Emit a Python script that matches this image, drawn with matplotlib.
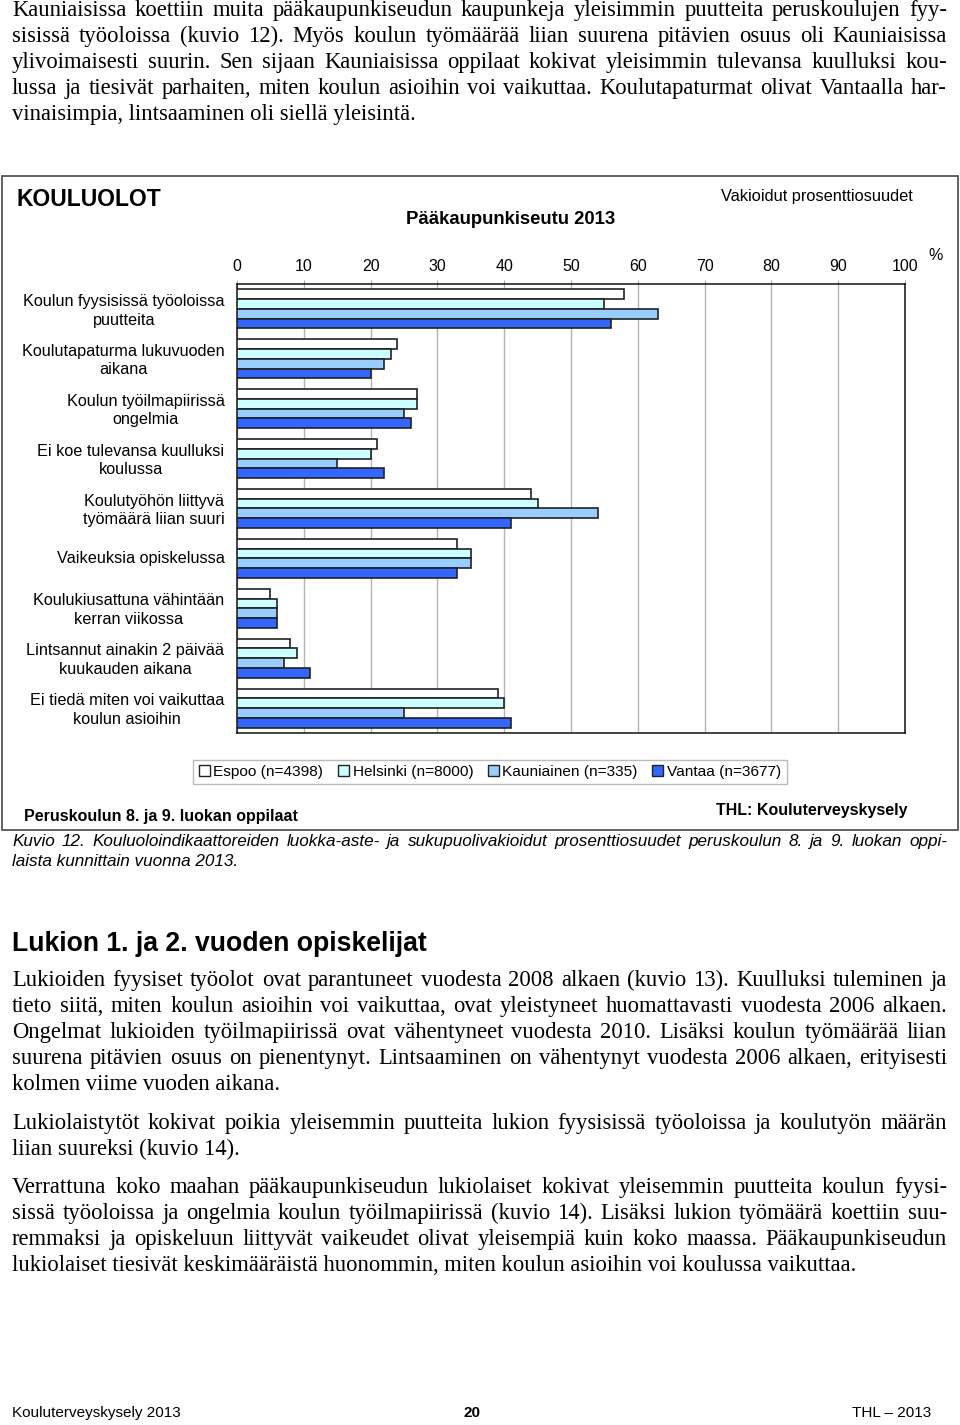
import matplotlib
matplotlib.use("Agg")
import matplotlib.pyplot as plt
from matplotlib.patches import Patch, Rectangle
import numpy as np

W, H = 960, 1425

# ---------------- data ----------------
categories = [
    "Koulun fyysisissä työoloissa\npuutteita",
    "Koulutapaturma lukuvuoden\naikana",
    "Koulun työilmapiirissä\nongelmia",
    "Ei koe tulevansa kuulluksi\nkoulussa",
    "Koulutyöhön liittyvä\ntyömäärä liian suuri",
    "Vaikeuksia opiskelussa",
    "Koulukiusattuna vähintään\nkerran viikossa",
    "Lintsannut ainakin 2 päivää\nkuukauden aikana",
    "Ei tiedä miten voi vaikuttaa\nkoulun asioihin",
]
espoo = [58, 24, 27, 21, 44, 33, 5, 8, 39]
helsinki = [55, 23, 27, 20, 45, 35, 6, 9, 40]
kauniainen = [63, 22, 25, 15, 54, 35, 6, 7, 25]
vantaa = [56, 20, 26, 22, 41, 33, 6, 11, 41]
series_names = ["Espoo (n=4398)", "Helsinki (n=8000)", "Kauniainen (n=335)", "Vantaa (n=3677)"]
series_colors = ["#FFFFFF", "#CCFFFF", "#99CCFF", "#3366FF"]
xticks = [0, 10, 20, 30, 40, 50, 60, 70, 80, 90, 100]

para_top = [
    ("Kauniaisissa koettiin muita pääkaupunkiseudun kaupunkeja yleisimmin puutteita peruskoulujen fyy-", True),
    ("sisissä työoloissa (kuvio 12). Myös koulun työmäärää liian suurena pitävien osuus oli Kauniaisissa", True),
    ("ylivoimaisesti suurin. Sen sijaan Kauniaisissa oppilaat kokivat yleisimmin tulevansa kuulluksi kou-", True),
    ("lussa ja tiesivät parhaiten, miten koulun asioihin voi vaikuttaa. Koulutapaturmat olivat Vantaalla har-", True),
    ("vinaisimpia, lintsaaminen oli siellä yleisintä.", False),
]
para2 = [
    ("Lukioiden fyysiset työolot ovat parantuneet vuodesta 2008 alkaen (kuvio 13). Kuulluksi tuleminen ja", True),
    ("tieto siitä, miten koulun asioihin voi vaikuttaa, ovat yleistyneet huomattavasti vuodesta 2006 alkaen.", True),
    ("Ongelmat lukioiden työilmapiirissä ovat vähentyneet vuodesta 2010. Lisäksi koulun työmäärää liian", True),
    ("suurena pitävien osuus on pienentynyt. Lintsaaminen on vähentynyt vuodesta 2006 alkaen, erityisesti", True),
    ("kolmen viime vuoden aikana.", False),
]
para3 = [
    ("Lukiolaistytöt kokivat poikia yleisemmin puutteita lukion fyysisissä työoloissa ja koulutyön määrän", True),
    ("liian suureksi (kuvio 14).", False),
]
para4 = [
    ("Verrattuna koko maahan pääkaupunkiseudun lukiolaiset kokivat yleisemmin puutteita koulun fyysi-", True),
    ("sissä työoloissa ja ongelmia koulun työilmapiirissä (kuvio 14). Lisäksi lukion työmäärä koettiin suu-", True),
    ("remmaksi ja opiskeluun liittyvät vaikeudet olivat yleisempiä kuin koko maassa. Pääkaupunkiseudun", True),
    ("lukiolaiset tiesivät keskimääräistä huonommin, miten koulun asioihin voi koulussa vaikuttaa.", False),
]
caption = [
    ("Kuvio 12. Kouluoloindikaattoreiden luokka-aste- ja sukupuolivakioidut prosenttiosuudet peruskoulun 8. ja 9. luokan oppi-", True),
    ("laista kunnittain vuonna 2013.", False),
]

# ---------------- figure ----------------
fig = plt.figure(figsize=(W / 100, H / 100), dpi=100)
SANS = "Liberation Sans"
SERIF = "Liberation Serif"


def fx(x):
    return x / W


def fy(y):
    return 1 - y / H


renderer = fig.canvas.get_renderer()


def justify(lines, x0, x1, y0, dy, **kw):
    for k, (s, just) in enumerate(lines):
        y = y0 + k * dy
        if not just:
            fig.text(fx(x0), fy(y), s, ha="left", va="baseline", **kw)
            continue
        words = s.split(" ")
        ts = [fig.text(0, 0, w, ha="left", va="baseline", **kw) for w in words]
        ws = [t.get_window_extent(renderer).width for t in ts]
        gap = (x1 - x0 - sum(ws)) / (len(words) - 1)
        xx = x0
        for t, w in zip(ts, ws):
            t.set_position((fx(xx), fy(y)))
            xx += w + gap


body_kw = dict(family=SERIF, fontsize=16.3, color="black")
justify(para_top, 12, 947, 16, 26, **body_kw)
justify(para2, 12, 947, 986, 26, **body_kw)
justify(para3, 12, 947, 1129, 26, **body_kw)
justify(para4, 12, 947, 1193, 26, **body_kw)

# heading
fig.text(fx(12), fy(944), "Lukion 1. ja 2. vuoden opiskelijat", family=SANS,
         fontsize=19.2, fontweight="bold", ha="left", va="center")

# caption (italic)
justify(caption, 12, 947, 846, 20, family=SANS, fontsize=12.3, style="italic")

# footer
fig.text(fx(12), fy(1413), "Kouluterveyskysely 2013", family=SANS, fontsize=11, ha="left", va="center")
fig.text(fx(472), fy(1413), "20", family=SANS, fontsize=11, fontweight="bold", ha="center", va="center")
fig.text(fx(931), fy(1413), "THL – 2013", family=SANS, fontsize=11, ha="right", va="center")

# outer chart frame
fig.patches.append(Rectangle((fx(2), fy(830)), fx(958) - fx(2), fy(176) - fy(830),
                             transform=fig.transFigure, fill=False, edgecolor="#555555",
                             linewidth=1.3, zorder=0))

fig.text(fx(17), fy(200), "KOULUOLOT", family=SANS, fontsize=16.5, fontweight="bold",
         ha="left", va="center")
fig.text(fx(511), fy(220), "Pääkaupunkiseutu 2013", family=SANS, fontsize=13.3,
         fontweight="bold", ha="center", va="center")
fig.text(fx(913), fy(197), "Vakioidut prosenttiosuudet", family=SANS, fontsize=11.8,
         ha="right", va="center")
fig.text(fx(936), fy(256), "%", family=SANS, fontsize=11.5, ha="center", va="center")
fig.text(fx(24), fy(817), "Peruskoulun 8. ja 9. luokan oppilaat", family=SANS, fontsize=11.5,
         fontweight="bold", ha="left", va="center")
fig.text(fx(908), fy(811), "THL: Kouluterveyskysely", family=SANS, fontsize=11.5,
         fontweight="bold", ha="right", va="center")

# ---------------- chart ----------------
ax = fig.add_axes([fx(237), fy(733), fx(905) - fx(237), fy(284) - fy(733)])
series = [espoo, helsinki, kauniainen, vantaa]
n = len(categories)
pos = np.arange(n)
bh = 0.195
for j, (vals, col) in enumerate(zip(series, series_colors)):
    ax.barh(pos + (j - 1.5) * bh, vals, height=bh, color=col, edgecolor="#222222",
            linewidth=1.2, zorder=3)

ax.set_xlim(0, 100)
ax.set_ylim(n - 0.5, -0.5)
ax.set_xticks(xticks)
ax.set_xticklabels([str(v) for v in xticks], family=SANS, fontsize=11.5)
ax.xaxis.tick_top()
ax.tick_params(axis="x", length=3, color="#aaaaaa", pad=4.5)
ax.set_yticks(pos - 0.03)
ax.set_yticklabels(categories, family=SANS, fontsize=11.7, multialignment="center")
ax.tick_params(axis="y", length=0, pad=9)
ax.grid(axis="x", color="#b4b4b4", linewidth=1.0, zorder=0)
ax.set_axisbelow(True)
for s in ax.spines.values():
    s.set_color("#111111")
    s.set_linewidth(1.1)
for lab in ax.get_yticklabels():
    lab.set_linespacing(1.3)

handles = [Patch(facecolor=c, edgecolor="#222222", linewidth=1.0) for c in series_colors]
leg = fig.legend(handles, series_names, loc="center", bbox_to_anchor=(fx(490), fy(772)),
                 ncol=4, frameon=True, fancybox=False, edgecolor="#aaaaaa",
                 prop={"family": SANS, "size": 11.1}, handlelength=0.7, handleheight=0.7,
                 handletextpad=0.25, columnspacing=0.95, borderpad=0.35)
leg.get_frame().set_linewidth(1.0)

fig.savefig("out.png", dpi=100)
